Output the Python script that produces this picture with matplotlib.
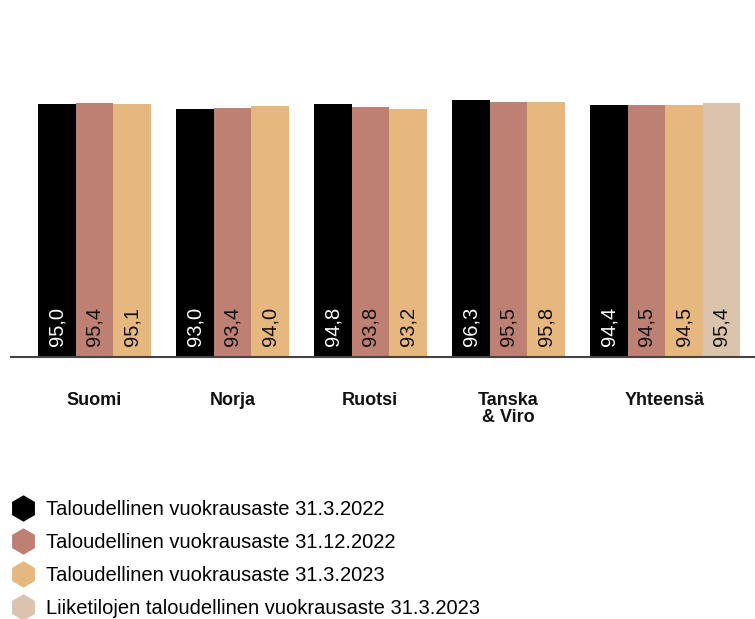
import matplotlib.pyplot as plt
from matplotlib.lines import Line2D

# data
categories = ["Suomi", "Norja", "Ruotsi", "Tanska\n& Viro", "Yhteensä"]
series_labels = [
    "Taloudellinen vuokrausaste 31.3.2022",
    "Taloudellinen vuokrausaste 31.12.2022",
    "Taloudellinen vuokrausaste 31.3.2023",
    "Liiketilojen taloudellinen vuokrausaste 31.3.2023",
]
vals_2022_03 = [95.0, 93.0, 94.8, 96.3, 94.4]
vals_2022_12 = [95.4, 93.4, 93.8, 95.5, 94.5]
vals_2023_03 = [95.1, 94.0, 93.2, 95.8, 94.5]
vals_liiketilat = [None, None, None, None, 95.4]

colors = ["#000000", "#be8073", "#e6b880", "#dbc4ae"]
text_colors = ["white", "#111111", "#111111", "#111111"]

plt.rcParams["font.family"] = ["Liberation Sans", "DejaVu Sans"]

fig = plt.figure(figsize=(7.55, 6.19), dpi=100)
ax = fig.add_axes([11 / 755, 1 - 357 / 619, 744 / 755, 266.5 / 619])

w = 0.272
series = [vals_2022_03, vals_2022_12, vals_2023_03, vals_liiketilat]
for j, vals in enumerate(series):
    for i, v in enumerate(vals):
        if v is None:
            continue
        x = i + j * w
        ax.bar(x, v, width=w, align="edge", color=colors[j], linewidth=0)
        ax.annotate(f"{v:.1f}".replace(".", ","), xy=(x + w / 2, 0),
                    xytext=(0, 8), textcoords="offset points",
                    rotation=90, ha="center", va="bottom",
                    fontsize=14.5, color=text_colors[j])

# category labels centered under each group
centers = []
for i in range(len(categories)):
    n = sum(1 for s in series if s[i] is not None)
    centers.append(i + n * w / 2)
ax.set_xticks(centers)
ax.set_xticklabels(categories, fontsize=13, fontweight="bold", color="#111111",
                   linespacing=1.0)
ax.tick_params(axis="x", length=0, pad=25)
ax.set_yticks([])
ax.set_xlim(-0.196, 5.196)
ax.set_ylim(0, 100)
for s in ["top", "right", "left"]:
    ax.spines[s].set_visible(False)
ax.spines["bottom"].set_color("#444444")
ax.spines["bottom"].set_linewidth(1.5)

handles = [Line2D([], [], linestyle="none", marker="h", markersize=19,
                  markerfacecolor=c, markeredgewidth=0) for c in colors]
fig.legend(handles, series_labels, loc="upper left",
           bbox_to_anchor=(7 / 755, 1 - 494 / 619), frameon=False,
           fontsize=14.5, handlelength=1.0, handletextpad=0.62,
           labelspacing=0.70, borderaxespad=0, borderpad=0.3)

plt.savefig("out.png", dpi=100)
